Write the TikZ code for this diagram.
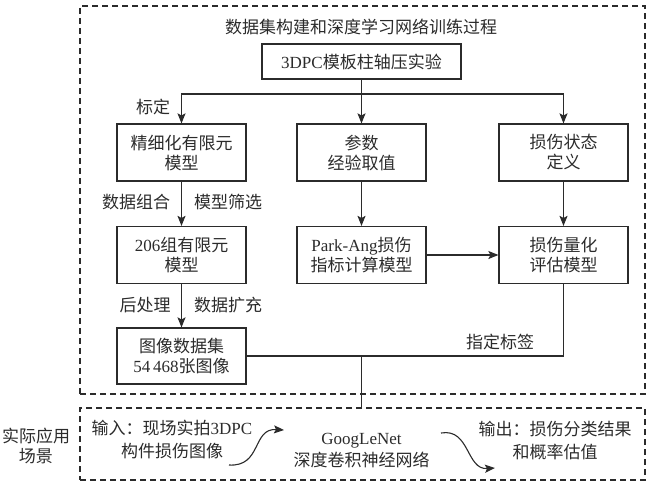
\documentclass[tikz,border=0pt]{standalone}
\usepackage{fontspec}
\setmainfont{Noto Sans CJK SC}
\newfontfamily\lat{Liberation Serif}
\usetikzlibrary{arrows.meta}
\definecolor{ink}{HTML}{2B2B2B}
\begin{document}
\begin{tikzpicture}[x=1pt,y=-1pt,
  every node/.style={font=\fontsize{17}{20}\selectfont, text=ink, inner sep=0pt},
  box/.style={draw=ink, line width=1.2pt, minimum width=129pt, minimum height=57pt, align=center},
  arr/.style={-{Stealth[length=10pt,width=8pt,inset=2pt]}, line width=1.1pt, draw=ink},
  ln/.style={line width=1.1pt, draw=ink},
  frame/.style={draw=ink, dash pattern=on 6pt off 4pt, line width=1.1pt},
  twoline/.style={align=center, font=\fontsize{17}{23}\selectfont}
]
\useasboundingbox (0,0) rectangle (648,483);

% frames
\node[frame, minimum width=565pt, minimum height=388pt] (top) at (362.5,200) {};
\node[frame, minimum width=565pt, minimum height=72pt] (bot) at (362.5,444) {};

\node (title) at (361,27) {数据集构建和深度学习网络训练过程};
\node[box, minimum width=199pt, minimum height=35pt] (exp) at (361.5,61.5) {{\lat 3DPC}模板柱轴压实验};

\node[box] (fe) at (181.5,152.5) {精细化有限元\\模型};
\node[box] (par) at (361.5,152.5) {参数\\经验取值};
\node[box] (dmg) at (563.5,152.5) {损伤状态\\定义};

\node[box] (fe206) at (181.5,255) {{\lat 206}组有限元\\模型};
\node[box] (pa) at (361.5,255) {{\lat Park-Ang}损伤\\指标计算模型};
\node[box] (quant) at (563.5,255) {损伤量化\\评估模型};

\node[box, minimum height=56pt] (dataset) at (181.5,356) {图像数据集\\{\lat 54\,468}张图像};

% labels
\node (bd) at (153,107) {标定};
\node (sz) at (136,202) {数据组合};
\node (sx) at (228,202) {模型筛选};
\node (hcl) at (145,305) {后处理};
\node (kc) at (228,305) {数据扩充};
\node (bq) at (500,342) {指定标签};

% bottom scene
\node[twoline, font=\fontsize{17}{20}\selectfont] (scene) at (36,446) {实际应用\\场景};
\node[twoline] (inp) at (172,440) {输入：现场实拍{\lat 3DPC}\\构件损伤图像};
\node[twoline, font=\fontsize{17}{22}\selectfont] (gn) at (361.5,451) {{\lat GoogLeNet}\\深度卷积神经网络};
\node[twoline] (outp) at (555,441) {输出：损伤分类结果\\和概率估值};

% connectors
\coordinate (j1) at (361.5,94);
\coordinate (j2) at (361.5,356);
\draw[arr] (exp.south) -- (par.north);
\draw[arr] (j1) -| (fe.north);
\draw[arr] (j1) -| (dmg.north);
\draw[arr] (fe.south) -- (fe206.north);
\draw[arr] (fe206.south) -- (dataset.north);
\draw[arr] (par.south) -- (pa.north);
\draw[arr] (dmg.south) -- (quant.north);
\draw[arr] (pa.east) -- (quant.west);
\draw[ln] (dataset.east) -| (quant.south);
\draw[ln] (j2) -- (j2 |- bot.north);

\coordinate (c1s) at (229,465);
\coordinate (c1e) at (284,430);
\coordinate (c2s) at (441,433);
\coordinate (c2e) at (495,468);
\draw[arr] (c1s) .. controls (262,467) and (252,428) .. (c1e);
\draw[arr] (c2s) .. controls (470,428) and (466,470) .. (c2e);
\end{tikzpicture}
\end{document}
